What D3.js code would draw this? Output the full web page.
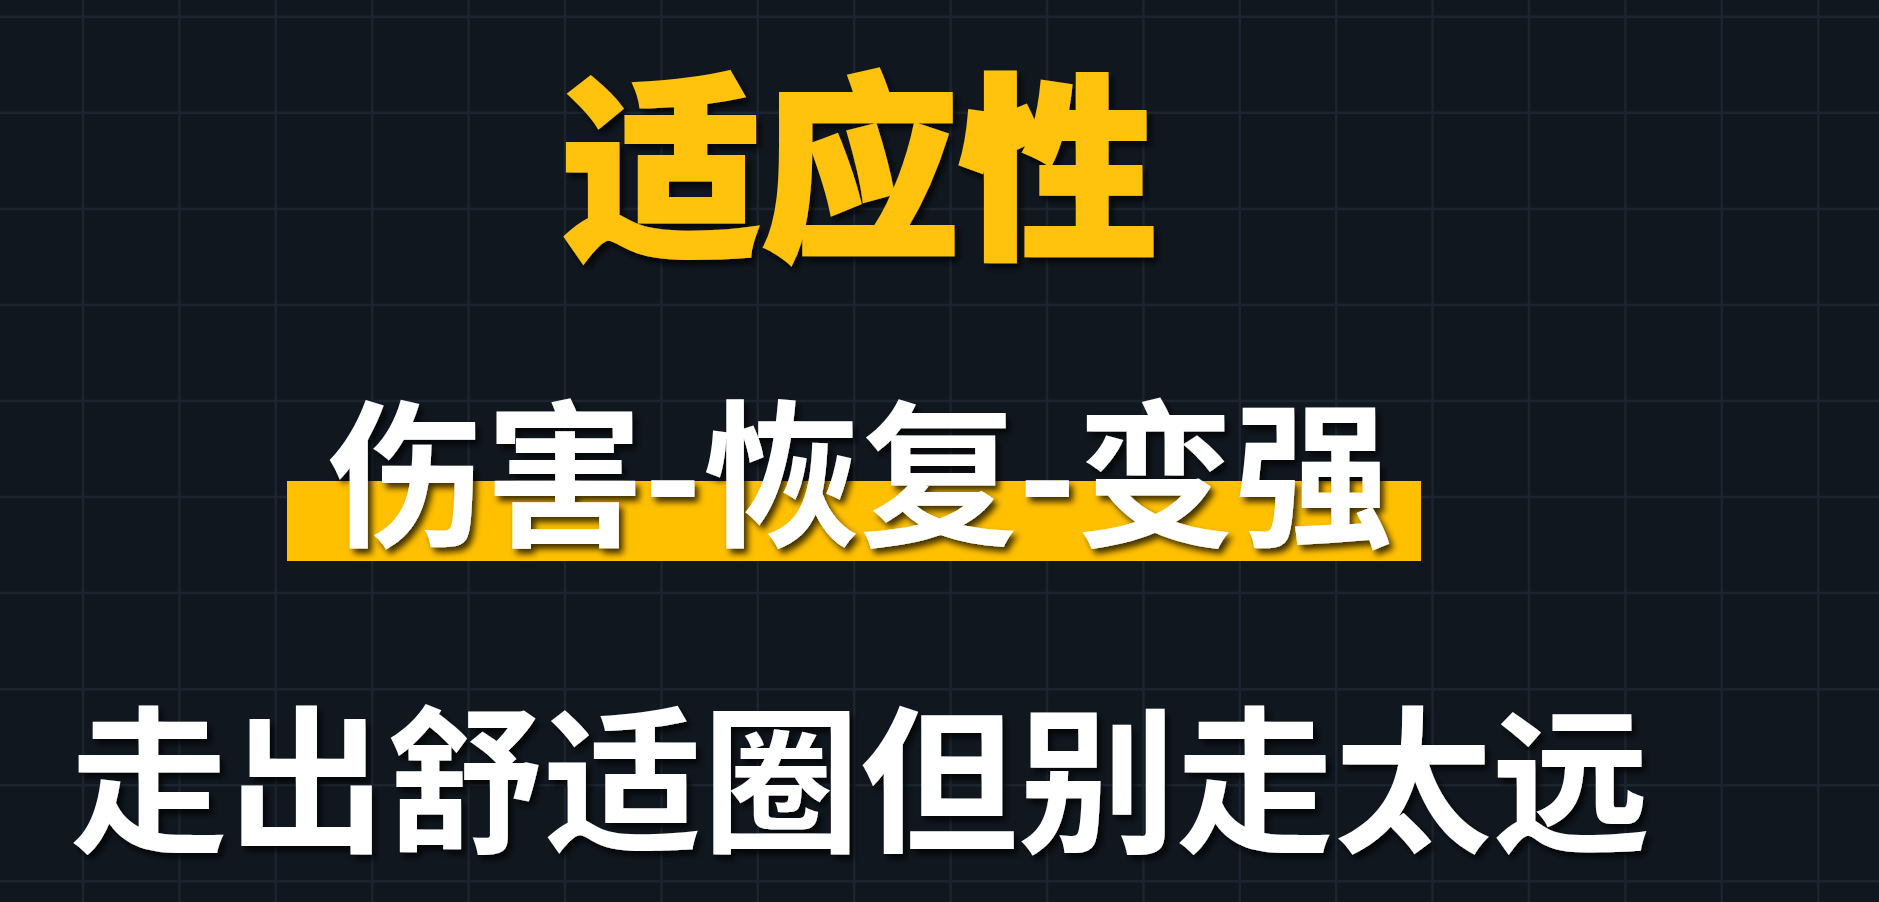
<!DOCTYPE html>
<html>
<head>
<meta charset="utf-8">
<script src="https://cdn.jsdelivr.net/npm/d3@7/dist/d3.min.js"></script>
<style>
  html, body { margin: 0; padding: 0; background: #10171f; overflow: hidden; }
  svg { display: block; }
</style>
</head>
<body>
<script>
// ---- content ----
const titleText = "适应性";
const subtitleText = "伤害-恢复-变强";
const bottomText = "走出舒适圈但别走太远";
const gridColumns = d3.range(0, 19);   // vertical grid line indices
const gridRows = d3.range(0, 10);      // horizontal grid line indices

const W = 1879, H = 902;
const svg = d3.select("body").append("svg").attr("width", W).attr("height", H);

const defs = svg.append("defs");
const f = defs.append("filter").attr("id", "shadow")
  .attr("x", "-10%").attr("y", "-10%").attr("width", "120%").attr("height", "130%");
f.append("feDropShadow").attr("dx", 4).attr("dy", 5).attr("stdDeviation", 3)
  .attr("flood-color", "#000").attr("flood-opacity", 0.75);

svg.append("rect").attr("width", W).attr("height", H).attr("fill", "#10171f");

// grid via linear scales
const gx = d3.scaleLinear().domain([0, 1]).range([83, 83 + 96.4]);
const gy = d3.scaleLinear().domain([0, 1]).range([16.8, 16.8 + 96.05]);

const grid = svg.append("g").attr("stroke", "#1c252f").attr("stroke-width", 2.5);
grid.selectAll("line.v").data(gridColumns).join("line").attr("class", "v")
  .attr("x1", d => gx(d)).attr("x2", d => gx(d)).attr("y1", 0).attr("y2", H);
grid.selectAll("line.h").data(gridRows).join("line").attr("class", "h")
  .attr("y1", d => gy(d)).attr("y2", d => gy(d)).attr("x1", 0).attr("x2", W);

const cx = 860;
const font = "'Noto Sans CJK SC', 'Noto Sans CJK JP', sans-serif";

// title
svg.append("text")
  .attr("x", cx).attr("y", 242)
  .attr("text-anchor", "middle")
  .attr("font-family", font).attr("font-weight", 900)
  .attr("font-size", 198)
  .attr("fill", "#ffc20e")
  .attr("stroke", "#ffc20e").attr("stroke-width", 4).attr("stroke-linejoin", "miter")
  .attr("filter", "url(#shadow)")
  .text(titleText);

// highlight bar
svg.append("rect")
  .attr("x", 287).attr("y", 481).attr("width", 1421 - 287).attr("height", 80)
  .attr("fill", "#ffc000");

// subtitle
svg.append("text")
  .attr("x", cx).attr("y", 534)
  .attr("text-anchor", "middle")
  .attr("font-family", font).attr("font-weight", 700)
  .attr("font-size", 158)
  .attr("fill", "#ffffff")
  .attr("filter", "url(#shadow)")
  .text(subtitleText);

// bottom line
svg.append("text")
  .attr("x", cx).attr("y", 840)
  .attr("text-anchor", "middle")
  .attr("font-family", font).attr("font-weight", 700)
  .attr("font-size", 158)
  .attr("fill", "#ffffff")
  .attr("filter", "url(#shadow)")
  .text(bottomText);
</script>
</body>
</html>
